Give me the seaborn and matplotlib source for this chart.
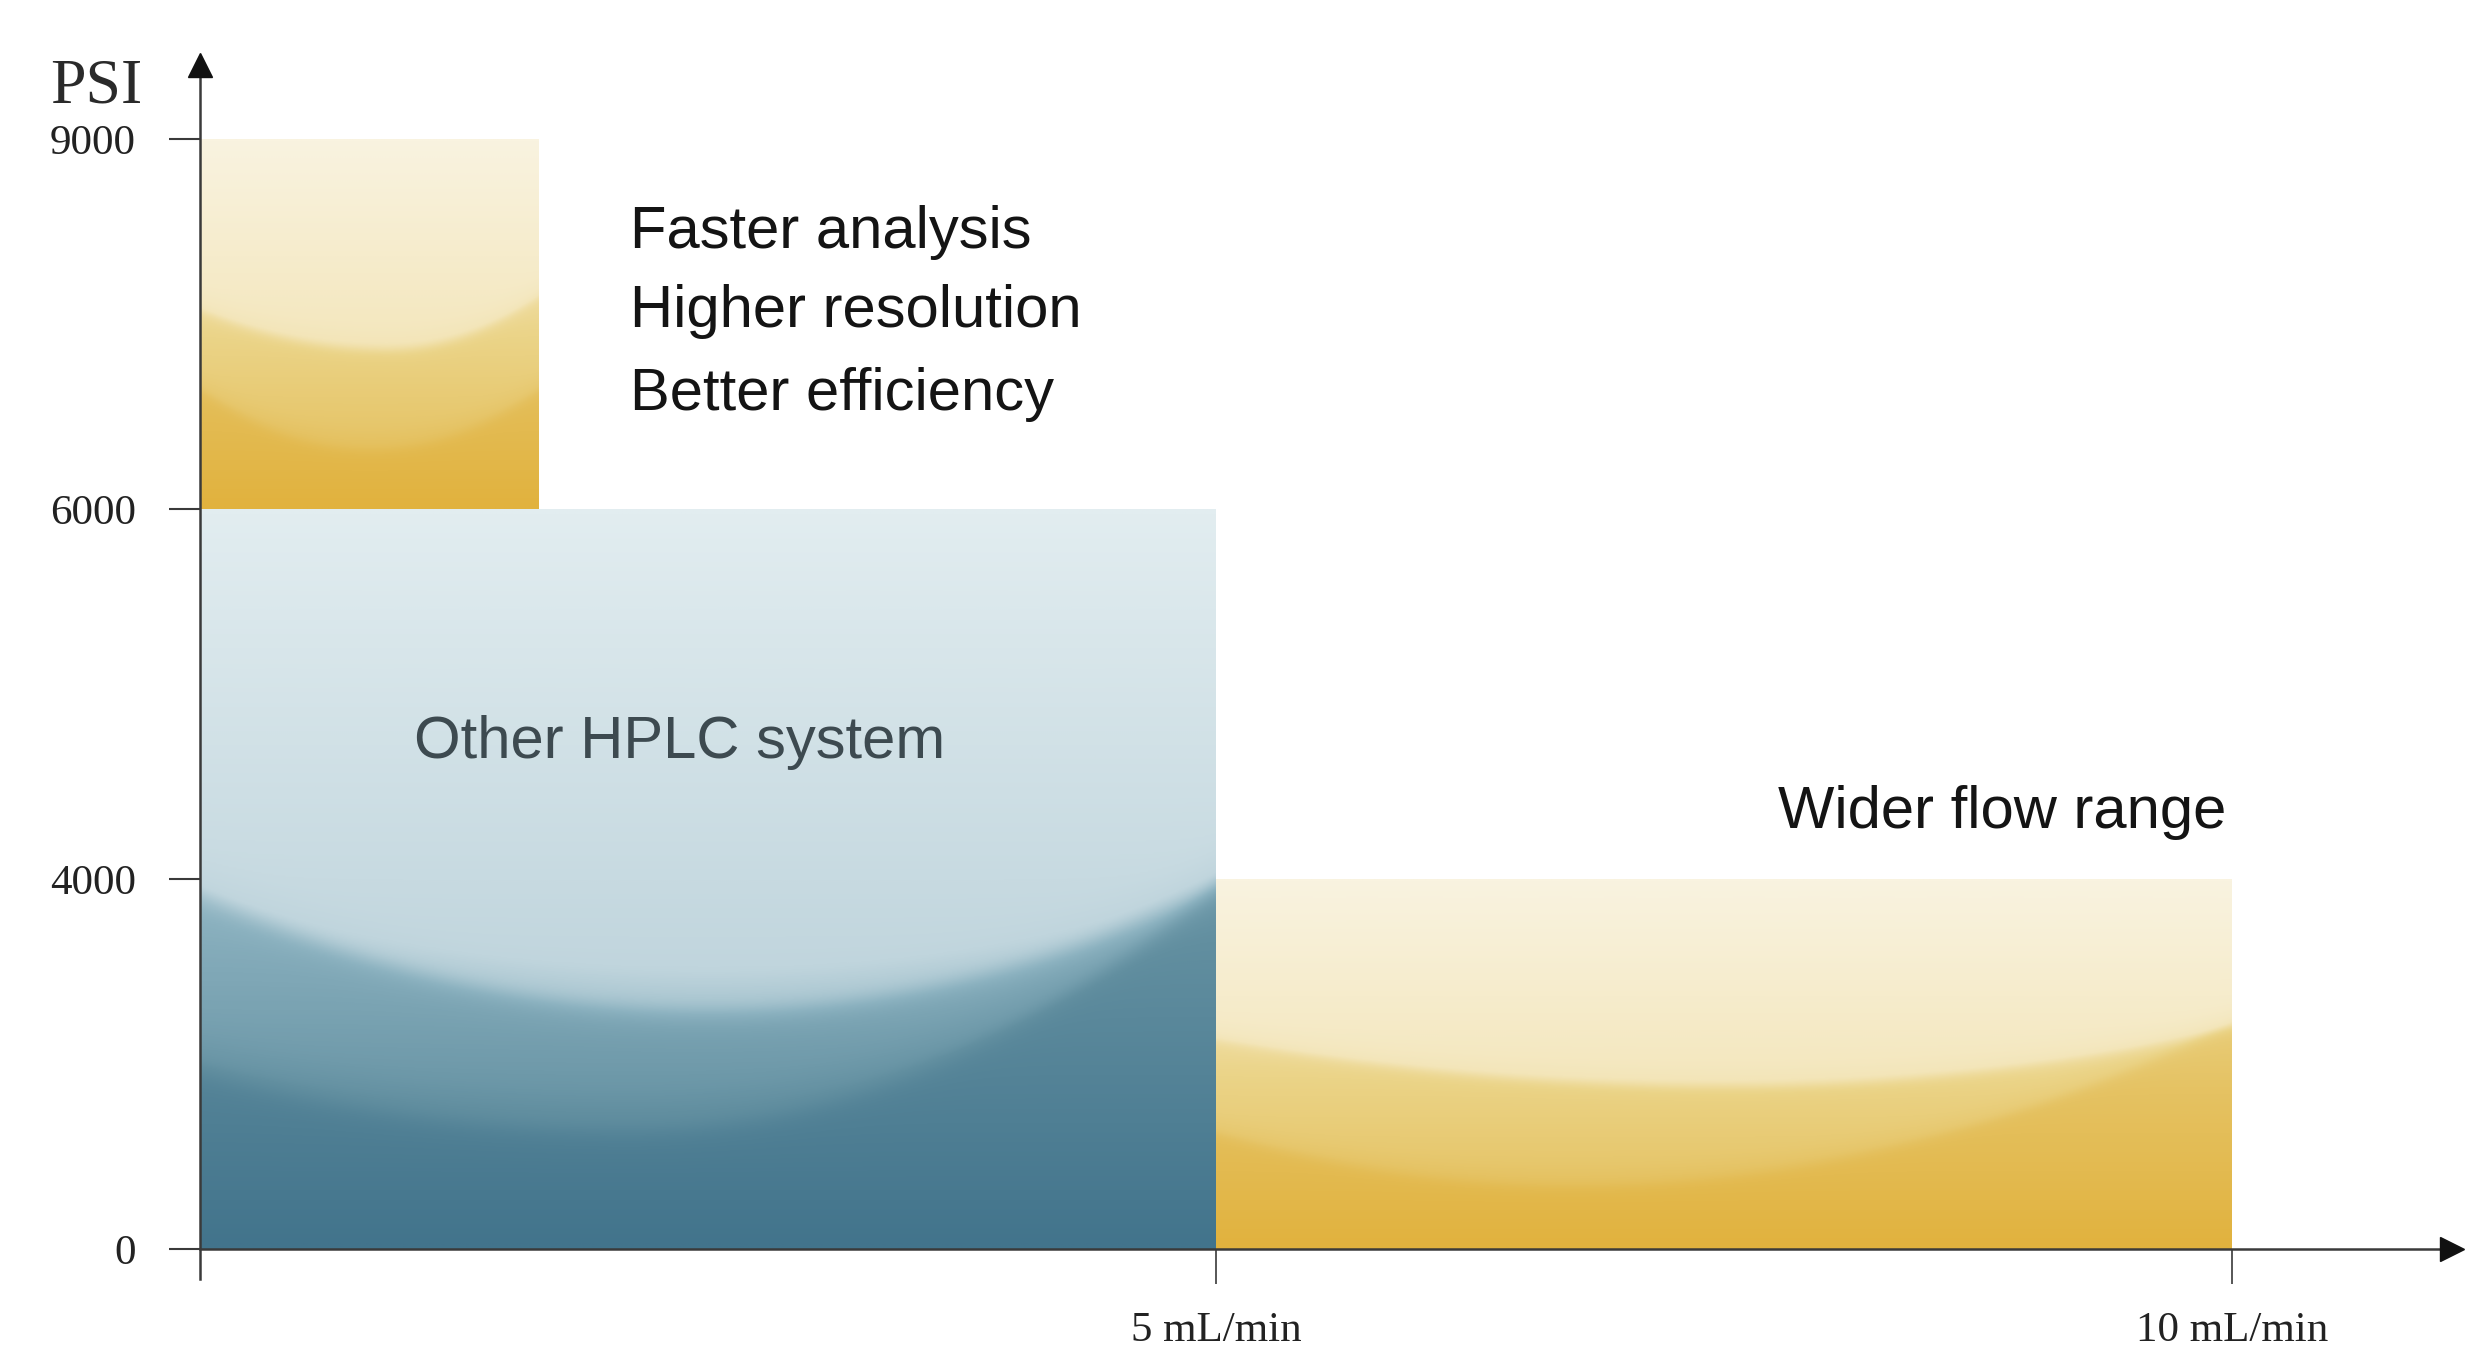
import numpy as np
import matplotlib
matplotlib.use("Agg")
import matplotlib.pyplot as plt
from matplotlib.colors import LinearSegmentedColormap
import seaborn as sns

# ---- data ----
psi_ticks = [0, 4000, 6000, 9000]
flow_ticks = [5, 10]
flow_labels = ["5 mL/min", "10 mL/min"]
bar_left = [0, 0, 5]          # mL/min
bar_width = [5, 1.67, 5]      # mL/min
bar_bottom = [0, 6000, 0]     # PSI
bar_top = [6000, 9000, 4000]  # PSI
bar_kind = ["blue", "yellow", "yellow"]
benefits = ["Faster analysis", "Higher resolution", "Better efficiency"]

# pressure ticks are drawn evenly spaced -> piecewise linear scale
tick_pos = np.arange(len(psi_ticks), dtype=float)


def fwd(v):
    v = np.asarray(v, dtype=float)
    out = np.interp(v, psi_ticks, tick_pos)
    out = np.where(v < psi_ticks[0], (v - psi_ticks[0]) / (psi_ticks[1] - psi_ticks[0]), out)
    out = np.where(v > psi_ticks[-1],
                   tick_pos[-1] + (v - psi_ticks[-1]) / (psi_ticks[-1] - psi_ticks[-2]), out)
    return out


def inv(u):
    u = np.asarray(u, dtype=float)
    out = np.interp(u, tick_pos, psi_ticks)
    out = np.where(u < 0, u * (psi_ticks[1] - psi_ticks[0]) + psi_ticks[0], out)
    out = np.where(u > tick_pos[-1],
                   psi_ticks[-1] + (u - tick_pos[-1]) * (psi_ticks[-1] - psi_ticks[-2]), out)
    return out


def rgb(*c):
    return tuple(x / 255 for x in c)


cmaps = {
    "blue": LinearSegmentedColormap.from_list("b", [
        (0, rgb(66, 116, 140)), (0.25, rgb(98, 143, 160)), (0.45, rgb(140, 178, 192)),
        (0.62, rgb(192, 213, 221)), (1, rgb(226, 237, 240))]),
    "yellow": LinearSegmentedColormap.from_list("y", [
        (0, rgb(225, 178, 62)), (0.25, rgb(229, 194, 98)), (0.45, rgb(235, 212, 136)),
        (0.62, rgb(243, 229, 184)), (1, rgb(249, 243, 224))]),
}

# decorative wave shapes inside each bar (relative x, left, min, right heights)
waves = [
    dict(low=(0.42, 0.25, 0.17, 0.5), up=(0.5, 0.49, 0.33, 0.5)),
    dict(low=(0.5, 0.33, 0.17, 0.33), up=(0.55, 0.55, 0.44, 0.59)),
    dict(low=(0.35, 0.32, 0.18, 0.62), up=(0.5, 0.58, 0.45, 0.61)),
]


def arc(x, p):
    xm, yl, ym, yr = p
    left = ym + (yl - ym) * ((xm - x) / xm) ** 2
    right = ym + (yr - ym) * ((x - xm) / (1 - xm)) ** 2
    return np.where(x < xm, left, right)


def step(d, w=0.03):
    return 0.5 * (1 + np.tanh(d / w))


sns.set_theme(style="ticks")
plt.rcParams["font.family"] = ["Liberation Sans", "DejaVu Sans"]
serif = ["Liberation Serif", "DejaVu Serif"]

fig = plt.figure(figsize=(24.69, 13.51), dpi=100)
ax = fig.add_axes([0.081, 0.0536, 0.912, 0.8983])
ax.set_yscale("function", functions=(fwd, inv))

bars = ax.bar(bar_left, np.subtract(bar_top, bar_bottom), width=bar_width,
              bottom=bar_bottom, align="edge", color="none", linewidth=0, zorder=2)

for patch, x0, w, b, t, kind, wv in zip(bars.patches, bar_left, bar_width,
                                         bar_bottom, bar_top, bar_kind, waves):
    xs = np.linspace(0, 1, 500)
    ps = np.linspace(b, t, 700)
    u = fwd(ps)
    rel = (u - u[0]) / (u[-1] - u[0])
    X, R = np.meshgrid(xs, rel)
    lo = arc(X, wv["low"])
    hi = arc(X, wv["up"])
    L = 0.6 * R + 0.17 * step(R - lo) + 0.23 * step(R - hi)
    L += 0.04 * np.exp(-((R - hi) / 0.02) ** 2) + 0.03 * np.exp(-((R - lo) / 0.02) ** 2)
    img = cmaps[kind](np.clip(L, 0, 1))
    im = ax.imshow(img, extent=[x0, x0 + w, b, t], origin="lower", aspect="auto",
                   interpolation="bilinear", zorder=2)
    im.set_clip_path(patch)

ax.set_xlim(0, 11.08)
ax.set_ylim(float(inv(-0.08)), float(inv(3.2)))

# axes with arrows
sns.despine(ax=ax)
ax.spines["bottom"].set_position(("data", 0))
for s in ["left", "bottom"]:
    ax.spines[s].set_color("#3a3a3a")
    ax.spines[s].set_linewidth(1.8)
    ax.spines[s].set_zorder(3)
ax.plot(1, 0, ">", color="#111111", ms=17, transform=ax.get_yaxis_transform(), clip_on=False, zorder=4)
ax.plot(0, 1, "^", color="#111111", ms=17, transform=ax.get_xaxis_transform(), clip_on=False, zorder=4)

ax.set_yticks(psi_ticks)
ax.set_yticklabels([str(v) for v in psi_ticks])
ax.set_xticks(flow_ticks)
ax.set_xticklabels(flow_labels)
ax.tick_params(axis="y", direction="out", length=22, width=1.5, color="#3a3a3a", pad=24)
ax.tick_params(axis="x", direction="out", length=25, width=1.2, color="#3a3a3a", pad=20)
for lab in ax.get_xticklabels() + ax.get_yticklabels():
    lab.set_fontfamily(serif)
    lab.set_fontsize(31)
    lab.set_color("#222222")

fig.text(0.0389, 0.9356, "PSI", family=serif, fontsize=46, color="#2a2a2a",
         ha="center", va="center")

# annotations
for txt, y in zip(benefits, [8240, 7600, 6930]):
    ax.text(2.115, y, txt, fontsize=43, color="#141414", ha="left", va="center", zorder=5)
ax.text(2.36, 4740, "Other HPLC system", fontsize=43, color="#3d4a50",
        ha="center", va="center", zorder=5)
ax.text(8.87, 4360, "Wider flow range", fontsize=43, color="#141414",
        ha="center", va="center", zorder=5)

fig.savefig("out.png", dpi=100)
